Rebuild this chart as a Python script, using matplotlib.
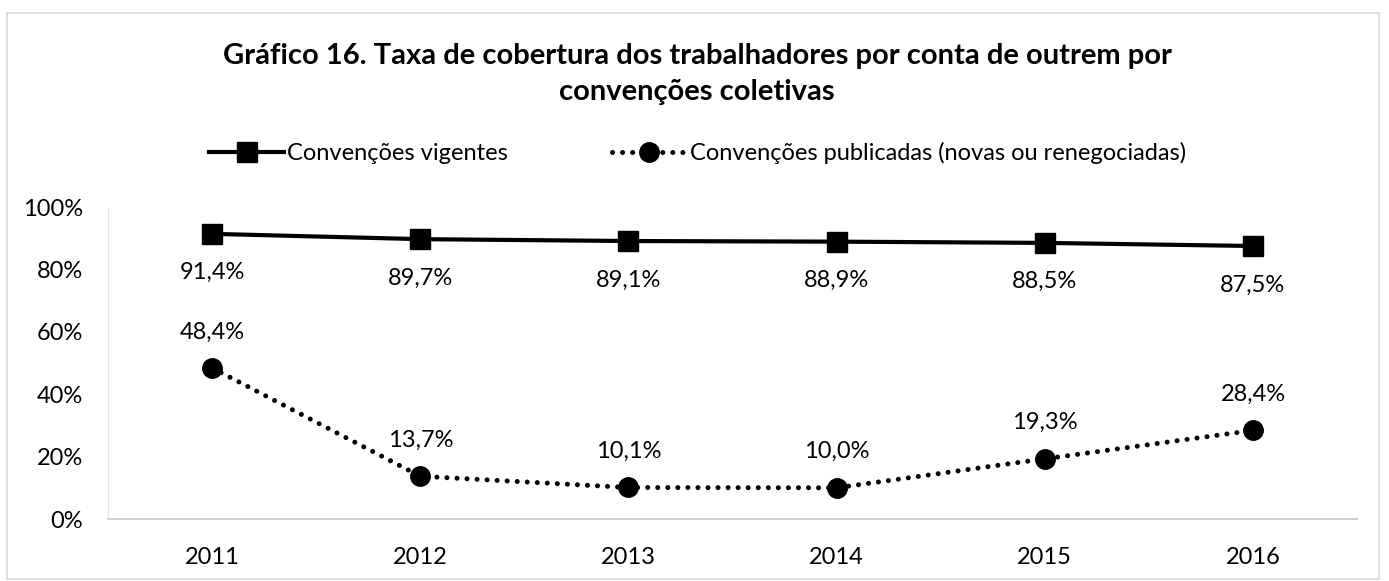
import numpy as np
import matplotlib
matplotlib.use('Agg')
import matplotlib.pyplot as plt
from matplotlib.patches import Rectangle

plt.rcParams['font.family'] = ['Lato', 'DejaVu Sans']

years = ['2011', '2012', '2013', '2014', '2015', '2016']
vigentes = [91.4, 89.7, 89.1, 88.9, 88.5, 87.5]
publicadas = [48.4, 13.7, 10.1, 10.0, 19.3, 28.4]
lab_vig = ['91,4%', '89,7%', '89,1%', '88,9%', '88,5%', '87,5%']
lab_pub = ['48,4%', '13,7%', '10,1%', '10,0%', '19,3%', '28,4%']
yticks = [0, 20, 40, 60, 80, 100]

fs = 17

fig = plt.figure(figsize=(13.89, 5.81), dpi=100)
ax = fig.add_axes([0.0778, 0.1067, 0.977 - 0.0778, 0.6437 - 0.1067])

x = np.arange(len(years))
ax.plot(x, vigentes, color='black', lw=3, marker='s', ms=14,
        label='Convenções vigentes', solid_joinstyle='round')
ax.plot(x, publicadas, color='black', lw=3.6, linestyle=(0, (0.01, 2.0)),
        dash_capstyle='round', marker='o', ms=14,
        label='Convenções publicadas (novas ou renegociadas)')

for xi, v, t in zip(x, vigentes, lab_vig):
    ax.annotate(t, (xi, v), xytext=(0, -28), textcoords='offset points',
                ha='center', va='center', fontsize=fs)
for xi, v, t in zip(x, publicadas, lab_pub):
    ax.annotate(t, (xi, v), xytext=(0, 26), textcoords='offset points',
                ha='center', va='center', fontsize=fs)

ax.set_xlim(-0.5, len(years) - 0.5)
ax.set_ylim(0, 100)
ax.set_yticks(yticks)
ax.set_yticklabels([f'{t}%' for t in yticks], fontsize=fs)
ax.set_xticks(x)
ax.set_xticklabels(years, fontsize=fs)
ax.tick_params(axis='both', length=0)
ax.tick_params(axis='x', pad=20)
ax.tick_params(axis='y', pad=18)
for s in ['top', 'right']:
    ax.spines[s].set_visible(False)
ax.spines['left'].set_color('#e3e3e3')
ax.spines['bottom'].set_color('#d0d0d0')
ax.spines['bottom'].set_linewidth(1.5)

fig.text(0.502, 0.873, 'Gráfico 16. Taxa de cobertura dos trabalhadores por conta de outrem por\nconvenções coletivas',
         ha='center', va='center', fontsize=21, fontweight='bold', linespacing=1.45)

fig.legend(loc='center', bbox_to_anchor=(0.502, 0.737), ncol=2, frameon=False,
           fontsize=fs, handlelength=3.2, columnspacing=4.4, handletextpad=0.1,
           markerscale=1.0)

fig.patches.append(Rectangle((0.005, 0.003), 0.988, 0.975, transform=fig.transFigure,
                             fill=False, edgecolor='#d9d9d9', lw=1.2))

fig.savefig('out.png', dpi=100)
